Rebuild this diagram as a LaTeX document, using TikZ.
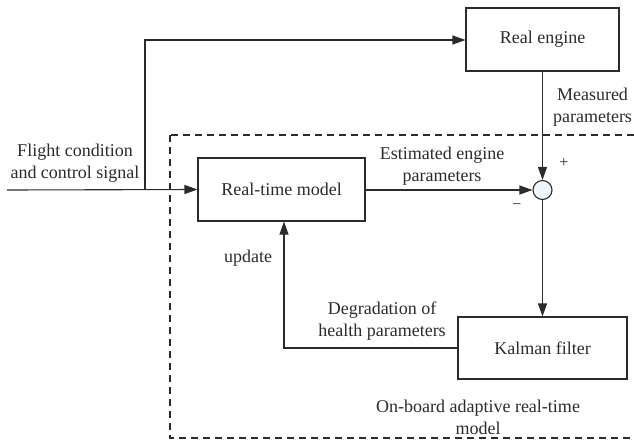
\documentclass[tikz,border=0pt]{standalone}
\usepackage{fontspec}
\setmainfont{Liberation Serif}
\newfontfamily\figfont{Liberation Serif}
\usetikzlibrary{arrows.meta}
\definecolor{ink}{HTML}{2B2B2B}
\definecolor{sumfill}{HTML}{EEF6FC}
\tikzset{
  figtext/.style={font=\figfont\fontsize{18}{22}\selectfont, text=ink},
  block/.style={draw=ink, line width=1.1pt, rectangle, minimum width=#1, minimum height=63pt, inner sep=0pt, figtext},
  wire/.style={draw=ink, line width=1.1pt},
  flow/.style={wire, -{Triangle[length=13pt,width=9pt]}},
  lbl/.style={figtext, align=center, inner sep=0pt},
  sgn/.style={font=\figfont\fontsize{16}{16}\selectfont, text=ink, inner sep=0pt},
}
\begin{document}
\begin{tikzpicture}[x=1pt,y=-1pt]
  \useasboundingbox (0,0) rectangle (634,442);
  % on-board adaptive model boundary
  \begin{scope}
    \clip (0,0) rectangle (634,442);
    \draw[draw=ink, line width=1.1pt, dash pattern=on 7pt off 5pt] (170,135) rectangle (645,438);
  \end{scope}

  % blocks
  \node[block=153pt] (engine) at (542.5,39.5) {Real engine};
  \node[block=167pt] (rtm) at (281.5,189.5) {Real-time model};
  \node[block=169pt, minimum height=62pt] (kal) at (542.5,348) {Kalman filter};
  \node[draw=ink, line width=1.1pt, fill=sumfill, circle, minimum size=19pt, inner sep=0pt] (sum) at (542.5,190) {};

  % input and its branch to the engine
  \coordinate (in) at (7,190);
  \coordinate (split) at (145,190);
  \coordinate (up) at (145,40);
  \draw[flow] (in) -- (rtm.west);
  \draw[flow] (split) -- (up) -- (engine.west |- up);

  % residual and filter path
  \draw[flow] (engine.south) -- (sum.north);
  \draw[flow] (rtm.east |- sum) -- (sum.west);
  \draw[flow] (sum.south) -- (kal.north);

  % health parameter feedback
  \coordinate (fb) at (284,348);
  \draw[flow] (kal.west) -- (fb) -- (fb |- rtm.south);

  % labels
  \node[lbl] at (75,163.5) {Flight condition\\and control signal};
  \node[lbl] at (592.5,107) {Measured\\parameters};
  \node[lbl] at (442,166) {Estimated engine\\parameters};
  \node[sgn] at (564,163) {+};
  \node[sgn] at (517,207) {−};
  \node[lbl] at (248,258) {update};
  \node[lbl] at (382,321) {Degradation of\\health parameters};
  \node[lbl] at (478,417) {On-board adaptive real-time\\model};
\end{tikzpicture}
\end{document}
